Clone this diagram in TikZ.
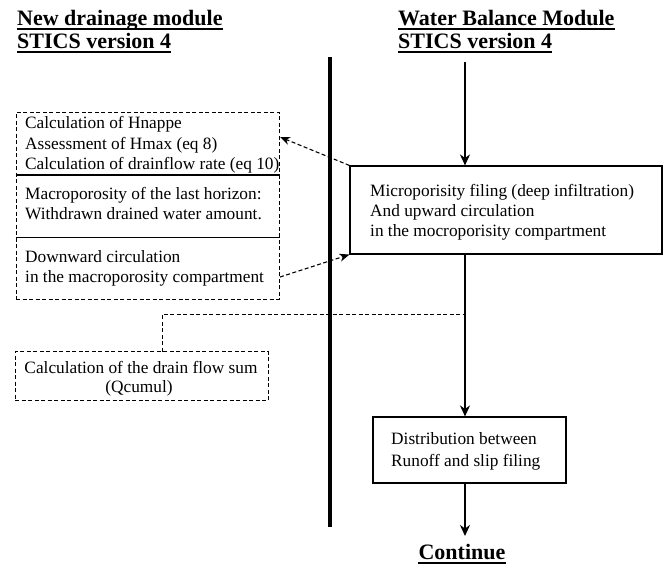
\documentclass[tikz,border=0pt]{standalone}
\usepackage{fontspec}
\setmainfont{Liberation Serif}
\usetikzlibrary{arrows.meta}
\begin{document}
\begin{tikzpicture}[x=1pt,y=-1pt,
 txt/.style={anchor=base west,inner sep=0pt,font=\fontsize{17.3}{20}\selectfont},
 ctxt/.style={anchor=base,inner sep=0pt,font=\fontsize{17.3}{20}\selectfont},
 ttl/.style={anchor=base west,inner sep=0pt,font=\fontsize{22}{26}\selectfont\bfseries},
 dsh/.style={dash pattern=on 4pt off 2.5pt},
 solidbox/.style={draw,line width=1.1pt,inner sep=0pt},
 dashbox/.style={draw,dsh,line width=1pt,inner sep=0pt},
 flow/.style={line width=1.4pt,-{Stealth[length=11pt,width=10pt,inset=3.5pt]}},
 dflow/.style={line width=1.1pt,dsh,-{Stealth[length=10pt,width=8pt,inset=3pt]}},
 uline/.style={line width=2.6pt}]
\useasboundingbox (0,0) rectangle (667,566);

% boxes
\node[solidbox,minimum width=312pt,minimum height=88pt] (micro) at (506,210) {};
\node[dashbox,minimum width=263pt,minimum height=187pt] (left) at (147.5,205.5) {};
\node[dashbox,minimum width=253pt,minimum height=49pt] (qc) at (141.5,376) {};
\node[solidbox,minimum width=193pt,minimum height=66pt] (dist) at (469.5,450) {};

% dividers in left box
\draw[line width=1.6pt] (left.west |- 0,175) -- (left.east |- 0,175);
\draw[line width=0.9pt] (left.west |- 0,237) -- (left.east |- 0,237);

% titles
\node[ttl] (t1) at (17,25) {New drainage module};
\node[ttl] (t2) at (17,48) {STICS version 4};
\node[ttl] (t3) at (398,25) {Water Balance Module};
\node[ttl] (t4) at (398,48) {STICS version 4};
\node[ttl,anchor=base] (cont) at (462,559) {Continue};
\foreach \t in {t1,t2,t3,t4}
  \draw[uline] ([yshift=-4pt]\t.base west) -- ([yshift=-4pt]\t.base east);
\draw[uline] ([yshift=-4pt]cont.base west) -- ([yshift=-4pt]cont.base east);

% left box texts
\node[txt] (l1) at (25,128) {Calculation of Hnappe};
\node[txt] (l2) at (25,149) {Assessment of Hmax (eq 8)};
\node[txt] (l3) at (25,169) {Calculation of drainflow rate (eq 10)};
\node[txt] (l4) at (25,199) {Macroporosity of the last horizon:};
\node[txt] (l5) at (25,219) {Withdrawn drained water amount.};
\node[txt] (l6) at (25,262) {Downward circulation};
\node[txt] (l7) at (25,282) {in the macroporosity compartment};

% qcumul texts
\node[ctxt] (q1) at (141,373) {Calculation of the drain flow sum};
\node[ctxt] (q2) at (139,392) {(Qcumul)};

% right box texts
\node[txt] (r1) at (370,196) {Microporisity filing (deep infiltration)};
\node[txt] (r2) at (370,216) {And upward circulation};
\node[txt] (r3) at (370,236) {in the mocroporisity compartment};

% distribution texts
\node[txt] (d1) at (391,444) {Distribution between};
\node[txt] (d2) at (391,466) {Runoff and slip filing};

% thick separator
\coordinate (vtop) at (330,57);
\coordinate (vbot) at (330,527);
\draw[line width=3.5pt] (vtop) -- (vbot);

% main flow
\coordinate (top) at (465,62);
\coordinate (contarrow) at (465,536);
\draw[flow] (top) -- (top |- micro.north);
\draw[flow] (micro.south -| top) -- (dist.north -| top);
\draw[flow] (dist.south -| top) -- (contarrow);

% dashed links
\coordinate (a1) at (280,137);
\coordinate (a2) at (280,277);
\draw[dflow] (micro.north west) -- (a1);
\draw[dflow] (a2) -- (micro.south west);
\coordinate (qs) at (162,351.5);
\coordinate (qj) at (465,314);
\draw[dsh,line width=1pt] (qs) |- (qj);
\end{tikzpicture}
\end{document}
